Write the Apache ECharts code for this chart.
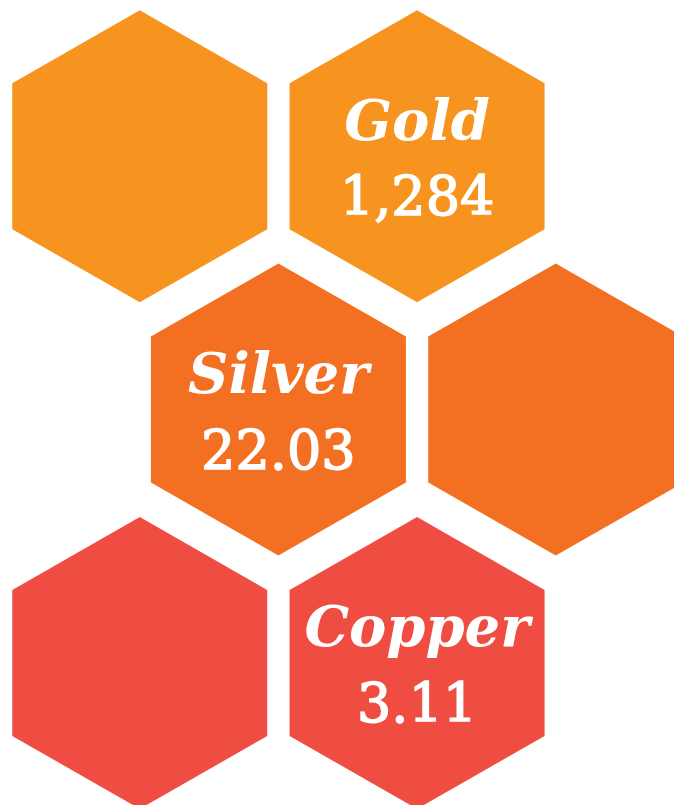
<!DOCTYPE html>
<html>
<head>
<meta charset="utf-8">
<script src="https://cdn.jsdelivr.net/npm/echarts@6/dist/echarts.min.js"></script>
<style>
html,body{margin:0;padding:0;background:#fff;}
#hex{width:674px;height:805px;}
</style>
</head>
<body>
<div id="hex"></div>
<script>
// hex cells, half-step columns (odd rows are shifted by one half step)
var cellRows = [0, 0, 1, 1, 2, 2]
var cellCols = [0, 2, 1, 3, 0, 2]
var metalNames = ['', 'Gold', 'Silver', '', '', 'Copper']
var metalPrices = [null, 1284, 22.03, null, null, 3.11]
var rowColors = ['#F7931F', '#F37022', '#F04D42']

function fmtPrice(v){
	return v.toLocaleString('en-US', {maximumFractionDigits: 2})
}

function $each(arr, fn){   // small helper, no jquery here
	for(var i = 0; i < arr.length; i++){ fn(i, arr[i]) }
}

function drawHex(){
	var data = []
	$each(cellRows, function(i, r){
		var item = {
			value: [cellCols[i], r],
			itemStyle: {color: rowColors[r], opacity: 1}
		}
		if(metalNames[i] != ''){
			item.label = {
				show: true,
				formatter: '{n|' + metalNames[i] + '}\n{v|' + fmtPrice(metalPrices[i]) + '}'
			}
		}
		data.push(item)
	})
	var option = {
		animation: false,
		grid: {left: 0, right: 0, top: 0, bottom: 0},
		xAxis: {type: 'value', min: -1.008, max: 3.853, show: false},
		yAxis: {type: 'value', min: -0.617, max: 2.561, inverse: true, show: false},
		series: [{
			type: 'scatter',
			symbol: 'path://M0,-146 L127,-73 L127,73 L0,146 L-127,73 L-127,-73 Z',
			symbolSize: [255, 292],
			itemStyle: {opacity: 1},
			emphasis: {disabled: true},
			label: {
				show: false,
				position: 'inside',
				offset: [0, 7],
				color: '#fff',
				rich: {
					n: {fontFamily: 'DejaVu Serif', fontStyle: 'italic', fontWeight: 'bold', fontSize: 56, color: '#fff', lineHeight: 76},
					v: {fontFamily: 'DejaVu Serif', fontWeight: 'normal', fontSize: 54, color: '#fff', lineHeight: 76,
						textBorderColor: '#fff', textBorderWidth: 1.5}
				}
			},
			data: data
		}]
	}
	var myChart = echarts.init(document.getElementById('hex'))
	myChart.setOption(option)
}

drawHex()
</script>
</body>
</html>
